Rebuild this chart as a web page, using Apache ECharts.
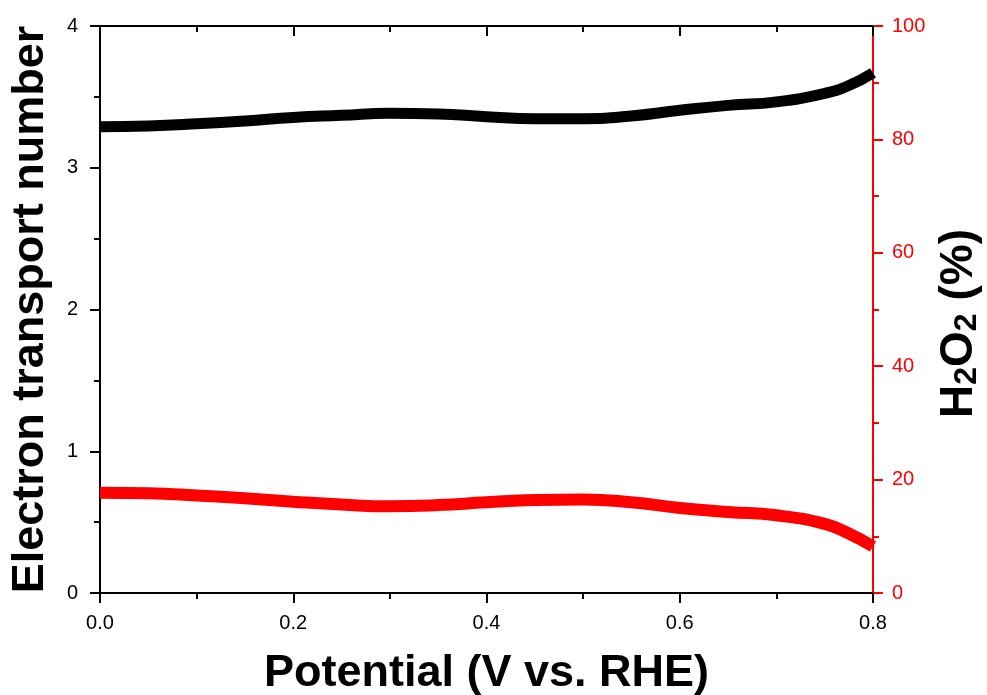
<!DOCTYPE html>
<html>
<head>
<meta charset="utf-8">
<script src="https://cdn.jsdelivr.net/npm/echarts@6/dist/echarts.min.js"></script>
<style>
  html, body { margin: 0; padding: 0; background: #fff; }
  #main { width: 987px; height: 695px; }
</style>
</head>
<body>
<div id="main"></div>
<script>
// potential (V vs. RHE)
var potential = [0, 0.05, 0.1, 0.15, 0.2, 0.25, 0.3, 0.35, 0.4, 0.45, 0.5, 0.55, 0.6, 0.65, 0.7, 0.75, 0.775, 0.8];
// electron transport number (left axis)
var electronNumber = [3.29, 3.295, 3.31, 3.33, 3.355, 3.37, 3.385, 3.38, 3.36, 3.345, 3.345, 3.365, 3.405, 3.44, 3.465, 3.525, 3.58, 3.67];
// H2O2 yield % (right axis)
var h2o2 = [17.7, 17.6, 17.2, 16.7, 16.1, 15.6, 15.3, 15.5, 16.0, 16.4, 16.5, 16.0, 15.0, 14.3, 13.7, 12.2, 10.5, 8.2];

var xTicks = ['0.0', '0.2', '0.4', '0.6', '0.8'];

function pairs(xs, ys) {
  return xs.map(function (x, i) { return [x, ys[i]]; });
}

var chart = echarts.init(document.getElementById('main'));
var font = 'Liberation Sans, Arial, sans-serif';
var black = { color: '#000', width: 2 };
var red = { color: '#ff0000', width: 2 };

chart.setOption({
  backgroundColor: '#fff',
  animation: false,
  grid: { left: 100, right: 114, top: 26, bottom: 102, containLabel: false, outerBoundsMode: 'none' },
  xAxis: [{
    type: 'value', min: 0, max: 0.8, interval: 0.2, position: 'bottom',
    name: 'Potential (V vs. RHE)', nameLocation: 'middle', nameGap: 58,
    nameTextStyle: { fontFamily: font, fontSize: 45, fontWeight: 'bold', color: '#000' },
    axisLine: { show: true, onZero: false, lineStyle: black },
    axisTick: { show: true, length: 10, lineStyle: black },
    minorTick: { show: true, splitNumber: 2, length: 6, lineStyle: black },
    axisLabel: { fontFamily: font, fontSize: 20, color: '#000', margin: 20,
      formatter: function (v) { return xTicks[Math.round(v / 0.2)]; } },
    splitLine: { show: false }
  }, {
    type: 'value', min: 0, max: 0.8, interval: 0.2, position: 'top',
    axisLine: { show: true, onZero: false, lineStyle: black },
    axisTick: { show: true, inside: true, length: 10, lineStyle: black },
    minorTick: { show: true, splitNumber: 2, length: 6, lineStyle: black },
    axisLabel: { show: false },
    splitLine: { show: false }
  }],
  yAxis: [{
    type: 'value', min: 0, max: 4, interval: 1, position: 'left',
    name: 'Electron transport number', nameLocation: 'middle', nameGap: 47,
    nameTextStyle: { fontFamily: font, fontSize: 45, fontWeight: 'bold', color: '#000' },
    axisLine: { show: true, onZero: false, lineStyle: black },
    axisTick: { show: true, length: 10, lineStyle: black },
    minorTick: { show: true, splitNumber: 2, length: 6, lineStyle: black },
    axisLabel: { fontFamily: font, fontSize: 20, color: '#000', margin: 22 },
    splitLine: { show: false }
  }, {
    type: 'value', min: 0, max: 100, interval: 20, position: 'right',
    name: '{b|H}{s|2}{b|O}{s|2}{b| (%)}', nameLocation: 'middle', nameGap: 61, nameRotate: 90,
    nameTextStyle: {
      padding: [0, 28, 0, 0],
      rich: {
        b: { fontFamily: font, fontSize: 46, fontWeight: 'bold', color: '#000' },
        s: { fontFamily: font, fontSize: 32, fontWeight: 'bold', color: '#000', verticalAlign: 'bottom', padding: [16, 0, 0, 0] }
      }
    },
    axisLine: { show: true, onZero: false, lineStyle: red },
    axisTick: { show: true, length: 10, lineStyle: red },
    minorTick: { show: true, splitNumber: 2, length: 6, lineStyle: red },
    axisLabel: { fontFamily: font, fontSize: 20, color: '#ff0000', margin: 19 },
    splitLine: { show: false }
  }],
  series: [{
    name: 'Electron transport number', type: 'line', xAxisIndex: 0, yAxisIndex: 0,
    smooth: true, showSymbol: false,
    lineStyle: { color: '#000', width: 11 },
    data: pairs(potential, electronNumber)
  }, {
    name: 'H2O2', type: 'line', xAxisIndex: 0, yAxisIndex: 1,
    smooth: true, showSymbol: false,
    lineStyle: { color: '#ff0000', width: 12 },
    data: pairs(potential, h2o2)
  }]
});
</script>
</body>
</html>
